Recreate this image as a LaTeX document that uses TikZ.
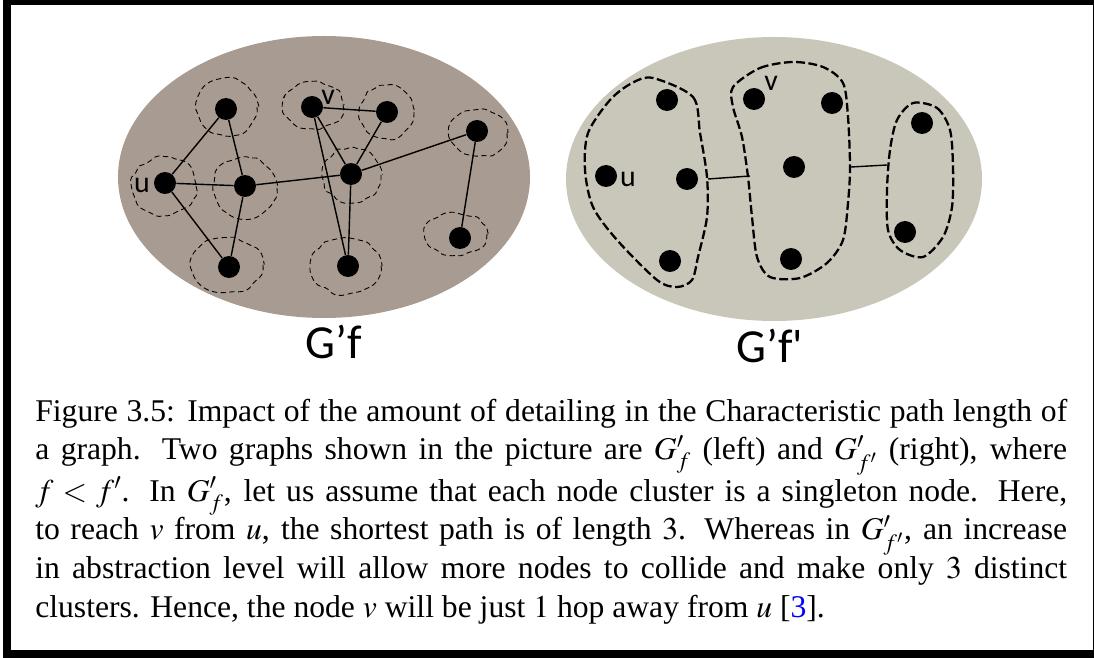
\documentclass[tikz,border=0pt]{standalone}
\usepackage{mathptmx}
\usepackage{fontspec}
\setmainfont{Liberation Serif}
\newfontfamily\labelfont{Carlito}
\usetikzlibrary{decorations.pathmorphing}

\definecolor{leftbg}{RGB}{168,155,145}
\definecolor{rightbg}{RGB}{201,198,186}
\definecolor{citeblue}{RGB}{0,0,255}

\tikzset{
  pt/.style={circle, fill=black, inner sep=0pt, minimum size=0.44cm},
  edge/.style={line width=0.8pt},
  blob/.style={draw, densely dashed, line width=0.5pt, decorate,
    decoration={random steps, segment length=4pt, amplitude=1.1pt}, rounded corners=1.2pt},
  group/.style={draw, line width=1.3pt, dash pattern=on 5pt off 2pt},
  lbl/.style={font=\labelfont\fontsize{17}{17}\selectfont, inner sep=0pt},
  gtitle/.style={font=\labelfont\fontsize{27}{27}\selectfont, inner sep=0pt, anchor=base},
}

\begin{document}
\begin{tikzpicture}[x=0.02cm, y=-0.02cm]
\pgfmathsetseed{7}
\useasboundingbox (0,0) rectangle (1094,658);
\draw[line width=0.16cm] (7,1) rectangle (1097,654);

% linker Graph G'f
\fill[leftbg] (324,177) ellipse (206 and 141);
\node[pt] (a) at (226,109) {};
\node[pt] (u) at (165,183) {};
\node[pt] (b) at (245,186) {};
\node[pt] (c) at (229,267) {};
\node[pt] (v) at (312,107) {};
\node[pt] (w) at (387,112) {};
\node[pt] (x) at (351,174) {};
\node[pt] (y) at (348,266) {};
\node[pt] (p) at (477,131) {};
\node[pt] (q) at (460,238) {};
\draw[blob] (227,107) ellipse (30 and 28);
\draw[blob] (164,186) ellipse (32 and 29);
\draw[blob] (245,188) ellipse (32 and 31);
\draw[blob] (227,265) ellipse (36 and 27);
\draw[blob] (313,105) ellipse (30 and 23);
\draw[blob] (387,112) ellipse (27 and 26);
\draw[blob] (352,175) ellipse (29 and 27);
\draw[blob] (346,266) ellipse (35 and 28);
\draw[blob] (478,133) ellipse (29 and 23);
\draw[blob] (456,234) ellipse (31 and 21);
\draw[edge] (u) -- (a) (a) -- (b) (u) -- (b) (u) -- (c) (b) -- (c) (b) -- (x);
\draw[edge] (v) -- (w) (v) -- (x) (v) -- (y) (w) -- (x) (x) -- (y) (x) -- (p) (p) -- (q);
\node[lbl] (ulbl) at (142,185) {u};
\node[lbl] (vlbl) at (328,97) {v};
\node[gtitle] (gl) at (334,358) {G’f};

% rechter Graph G'f'
\fill[rightbg] (774,179) ellipse (208 and 142);
\node[pt] (ra) at (667,100) {};
\node[pt] (ru) at (606,176) {};
\node[pt] (rb) at (687,179) {};
\node[pt] (rc) at (670,261) {};
\node[pt] (rv) at (754,99) {};
\node[pt] (rw) at (832,103) {};
\node[pt] (rx) at (794,167) {};
\node[pt] (ry) at (791,259) {};
\node[pt] (rp) at (922,123) {};
\node[pt] (rq) at (905,232) {};
\draw[group] plot[smooth cycle] coordinates {(653,78) (693,97) (700,133) (707,177)
  (707,217) (698,257) (692,280) (677,287) (657,280) (617,240) (593,207) (585,170)
  (588,133) (610,100) (632,83)};
\draw[group] plot[smooth cycle] coordinates {(733,87) (760,68) (793,62) (823,67)
  (843,83) (848,117) (850,167) (848,203) (843,240) (827,263) (800,278) (770,277)
  (757,257) (752,217) (748,177) (742,137) (733,107)};
\draw[group] plot[smooth cycle] coordinates {(913,103) (937,108) (950,130) (953,167)
  (952,207) (943,237) (923,257) (900,250) (888,230) (887,190) (890,150) (897,120)};
\coordinate (ab1) at (708,179);
\coordinate (ab2) at (750,176);
\coordinate (bc1) at (851,167);
\coordinate (bc2) at (887,165);
\draw[edge] (ab1) -- (ab2);
\draw[edge] (bc1) -- (bc2);
\node[lbl] (rulbl) at (628,179) {u};
\node[lbl] (rvlbl) at (771,83) {v};
\node[gtitle] (gr) at (770,362) {G’f'};

% Bildunterschrift
\node[anchor=base west, inner sep=0pt] (cap) at (35,421) {\begin{minipage}[t]{20.64cm}
\fontsize{18pt}{22pt}\selectfont
Figure 3.5: Impact of the amount of detailing in the Characteristic path length of\linebreak
a graph.  Two graphs shown in the picture are $G'_f$ (left) and $G'_{f'}$ (right), where\linebreak
$f < f'$.  In $G'_f$, let us assume that each node cluster is a singleton node.  Here,\linebreak
to reach $v$ from $u$, the shortest path is of length $3$.  Whereas in $G'_{f'}$, an increase\linebreak
in abstraction level will allow more nodes to collide and make only $3$ distinct\linebreak
clusters. Hence, the node $v$ will be just $1$ hop away from $u$ [{\color{citeblue}3}].
\end{minipage}};
\end{tikzpicture}
\end{document}
